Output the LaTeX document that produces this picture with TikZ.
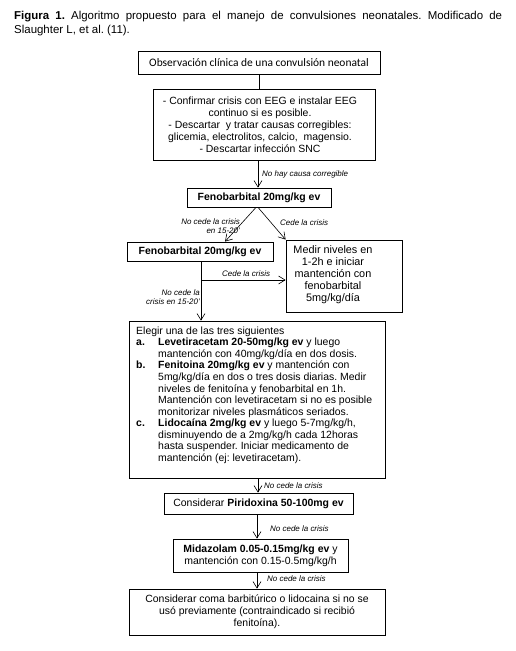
\documentclass[tikz,border=0pt]{standalone}
\usepackage{fontspec}
\setmainfont{Liberation Sans}
\newfontfamily\calibfont{Carlito}
\usetikzlibrary{arrows.meta}
\newcommand\ilab[1]{\makebox[22bp][l]{\textbf{#1}}}
\newcommand\iind{\hspace*{22bp}}
\frenchspacing
\begin{document}
\begin{tikzpicture}[x=1bp,y=-1bp,
 box/.style={draw, line width=0.8bp, inner sep=0pt, font=\fontsize{10.5}{12}\selectfont, align=center},
 txt/.style={inner sep=0pt, font=\fontsize{10.5}{12}\selectfont, align=center},
 lbl/.style={font=\fontsize{8}{9}\selectfont\itshape, inner sep=0pt},
 arr/.style={-{Straight Barb[length=6.5bp,width=8bp]}, line width=0.6bp},
 ln/.style={line width=0.6bp}]
\useasboundingbox (0,0) rectangle (516,651);
\fill[white] (0,0) rectangle (516,651);

\node[anchor=north west, text width=488bp, align=justify, inner sep=0pt,
  font=\fontsize{11.5}{14}\selectfont] (title) at (14,11.5)
  {\textbf{Figura 1.} Algoritmo propuesto para el manejo de convulsiones neonatales. Modificado de\linebreak Slaughter L, et al. (11).};

\node[box, minimum width=242bp, minimum height=23bp, font=\calibfont\fontsize{11.5}{13}\selectfont] (b1) at (259,62.5)
  {Observación clínica de una convulsión neonatal};

\node[box, minimum width=222bp, minimum height=71bp] (b2) at (264,124.5) {};
\node[txt] (t2) at (260,125) {- Confirmar crisis con EEG e instalar EEG\\continuo si es posible.\\- Descartar\ \ y tratar causas corregibles:\\glicemia, electrolitos, calcio,\ \ magensio.\\- Descartar infección SNC};

\node[box, minimum width=144bp, minimum height=19bp] (b3) at (259,197.5) {\textbf{Fenobarbital 20mg/kg ev}};
\node[box, minimum width=146bp, minimum height=19bp] (b4) at (200,251.5) {\textbf{Fenobarbital 20mg/kg ev}};

\node[box, minimum width=116bp, minimum height=72bp] (b5) at (344,276) {};
\node[txt, font=\fontsize{10.9}{12}\selectfont] (t5) at (333,275) {Medir niveles en\\1-2h e iniciar\\mantención con\\fenobarbital\\5mg/kg/día};

\node[box, minimum width=256bp, minimum height=157bp] (b6) at (257,399.5) {};
\node[anchor=north west, inner sep=0pt, align=left, font=\fontsize{10.5}{11.6}\selectfont] (t6) at (136,326.5)
 {Elegir una de las tres siguientes\\
 \ilab{a.}\textbf{Levetiracetam 20-50mg/kg ev} y luego\\
 \iind mantención con 40mg/kg/día en dos dosis.\\
 \ilab{b.}\textbf{Fenitoina 20mg/kg ev} y mantención con\\
 \iind 5mg/kg/día en dos o tres dosis diarias. Medir\\
 \iind niveles de fenitoína y fenobarbital en 1h.\\
 \iind Mantención con levetiracetam si no es posible\\
 \iind monitorizar niveles plasmáticos seriados.\\
 \ilab{c.}\textbf{Lidocaína 2mg/kg ev} y luego 5-7mg/kg/h,\\
 \iind disminuyendo de a 2mg/kg/h cada 12horas\\
 \iind hasta suspender. Iniciar medicamento de\\
 \iind mantención (ej: levetiracetam).};

\node[box, minimum width=189bp, minimum height=21bp] (b7) at (258.5,503.5) {Considerar \textbf{Piridoxina 50-100mg ev}};
\node[box, minimum width=175bp, minimum height=33bp] (b8) at (260.5,555.5) {\textbf{Midazolam 0.05-0.15mg/kg ev} y\\mantención con 0.15-0.5mg/kg/h};
\node[box, minimum width=256bp, minimum height=46bp] (b9) at (257,612) {Considerar coma barbitúrico o lidocaina si no se\\usó previamente (contraindicado si recibió\\fenitoína).};

% connectors
\draw[ln] (b1.south) -- (b1.south |- b2.north);
\draw[arr] (258,160) coordinate (s2) -- (s2 |- b3.north);
\node[lbl, anchor=west] (l1) at (262,174) {No hay causa corregible};

\coordinate (s3a) at (256,207.4);
\coordinate (s3b) at (258,207.4);
\coordinate (e4) at (225,241.6);
\draw[arr] (s3a) -- (e4);
\draw[arr] (s3b) -- (b5.north west);
\node[lbl, anchor=east, align=right] (l2) at (240,226) {No cede la crisis\\en 15-20'};
\node[lbl, anchor=west] (l3) at (280,223) {Cede la crisis};

\coordinate (s4) at (201,261);
\coordinate (br) at (201,280);
\draw[arr] (s4) -- (s4 |- b6.north);
\draw[arr] (br) -- (br -| b5.west);
\node[lbl, anchor=west] (l4) at (222,274) {Cede la crisis};
\node[lbl, anchor=east, align=right] (l5) at (200,297.5) {No cede la\\crisis en 15-20'};

\draw[arr] (258,478) coordinate (s6) -- (s6 |- b7.north);
\node[lbl, anchor=west] (l6) at (264,486) {No cede la crisis};
\draw[arr] (257,514) coordinate (s7) -- (s7 |- b8.north);
\node[lbl, anchor=west] (l7) at (270,529) {No cede la crisis};
\draw[arr] (257,572) coordinate (s8) -- (s8 |- b9.north);
\node[lbl, anchor=west] (l8) at (267,579) {No cede la crisis};
\end{tikzpicture}
\end{document}
